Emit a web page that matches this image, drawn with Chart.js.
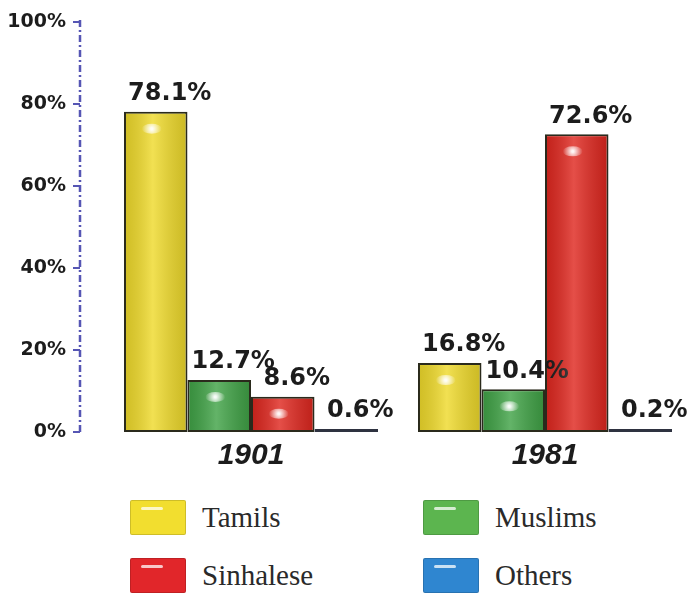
<!DOCTYPE html>
<html>
<head>
<meta charset="utf-8">
<script src="https://cdn.jsdelivr.net/npm/chart.js@4/dist/chart.umd.min.js"></script>
<style>
  html, body { margin: 0; padding: 0; background: #fff; }
  #wrap { position: relative; width: 692px; height: 597px; overflow: hidden; }
  #chart { position: absolute; left: 0; top: 0; }
  .sw { position: absolute; width: 56px; height: 35px; box-sizing: border-box; border-radius: 2px; }
  .sw::after { content: ""; position: absolute; left: 10px; top: 6px; width: 22px; height: 3px;
    background: rgba(255,255,255,0.75); border-radius: 2px; }
  .lt { position: absolute; font-family: "Liberation Serif", serif; font-size: 29px; color: #2a2a2a;
    line-height: 35px; }
</style>
</head>
<body>
<div id="wrap">
  <canvas id="chart" width="692" height="480"></canvas>
  <div id="legend"></div>
</div>
<script>
  // data
  var years = ["1901", "1981"];
  var groups = ["Tamils", "Muslims", "Sinhalese", "Others"];
  var tamils = [78.1, 16.8];
  var muslims = [12.7, 10.4];
  var sinhalese = [8.6, 72.6];
  var others = [0.6, 0.2];
  var yTicks = [0, 20, 40, 60, 80, 100];

  var barColors = ["#efda2c", "#41a347", "#df2820", "#333846"];
  var legendColors = ["#f2de2f", "#5cb54f", "#e1262a", "#2f86d0"];
  var series = [tamils, muslims, sinhalese, others];

  // dash-dot y axis line with little hooks at each tick
  var axisLine = {
    id: "axisLine",
    afterDraw: function(chart) {
      var ctx = chart.ctx, y = chart.scales.y, x0 = chart.chartArea.left - 24;
      ctx.save();
      ctx.strokeStyle = "#5656b4";
      ctx.lineWidth = 2.5;
      ctx.setLineDash([7, 3, 2, 3]);
      ctx.beginPath();
      ctx.moveTo(x0, y.getPixelForValue(100) - 2);
      ctx.lineTo(x0, y.getPixelForValue(0));
      ctx.stroke();
      ctx.setLineDash([]);
      ctx.lineWidth = 2;
      yTicks.forEach(function(t) {
        var py = y.getPixelForValue(t);
        ctx.beginPath();
        ctx.moveTo(x0 - 7, py);
        ctx.lineTo(x0, py);
        ctx.stroke();
      });
      ctx.restore();
    }
  };

  // shine on bars + value labels
  var barDeco = {
    id: "barDeco",
    afterDatasetsDraw: function(chart) {
      var ctx = chart.ctx;
      ctx.save();
      chart.data.datasets.forEach(function(ds, i) {
        chart.getDatasetMeta(i).data.forEach(function(el, j) {
          var p = el.getProps(["x", "y", "base", "width"], true);
          var l = p.x - p.width / 2 + 2, r = p.x + p.width / 2 - 2;
          var h = p.base - p.y - 4;
          if (h > 6) {
            var g = ctx.createLinearGradient(l, 0, r, 0);
            g.addColorStop(0, "rgba(0,0,0,0.12)");
            g.addColorStop(0.45, "rgba(255,255,255,0.18)");
            g.addColorStop(1, "rgba(0,0,0,0.14)");
            ctx.fillStyle = g;
            ctx.fillRect(l, p.y + 2, r - l, h);
            var rg = ctx.createRadialGradient(p.x - 4, p.y + 17, 1, p.x - 4, p.y + 17, 10);
            rg.addColorStop(0, "rgba(255,255,255,0.95)");
            rg.addColorStop(1, "rgba(255,255,255,0)");
            ctx.fillStyle = rg;
            ctx.beginPath();
            ctx.ellipse(p.x - 4, p.y + 17, 10, 5, 0, 0, Math.PI * 2);
            ctx.fill();
          }
          ctx.fillStyle = "#1c1c1c";
          ctx.font = "bold 24px 'DejaVu Sans', sans-serif";
          ctx.textAlign = "center";
          ctx.textBaseline = "middle";
          ctx.fillText(ds.data[j] + "%", p.x + 14, p.y - 18);
        });
      });
      ctx.restore();
    }
  };

  var chart = new Chart(document.getElementById("chart"), {
    type: "bar",
    data: {
      labels: years,
      datasets: groups.map(function(name, i) {
        return {
          label: name,
          data: series[i],
          backgroundColor: barColors[i],
          borderColor: i === 3 ? "#2e3240" : "#2a2a1c",
          borderWidth: 2,
          borderSkipped: false,
          minBarLength: i === 3 ? 3 : 0,
          categoryPercentage: 0.864,
          barPercentage: 1
        };
      })
    },
    options: {
      responsive: false,
      devicePixelRatio: 1,
      animation: false,
      layout: { padding: { top: 22, left: 0, right: 0, bottom: 0 } },
      plugins: { legend: { display: false }, tooltip: { enabled: false } },
      scales: {
        x: {
          grid: { display: false, drawTicks: false },
          border: { display: false },
          ticks: {
            padding: 6,
            color: "#1c1c1c",
            font: { family: "'Liberation Sans', Arial, sans-serif", size: 30, weight: "bold", style: "italic" }
          },
          afterFit: function(s) { s.height = 48; }
        },
        y: {
          min: 0,
          max: 100,
          afterBuildTicks: function(s) { s.ticks = yTicks.map(function(v) { return { value: v }; }); },
          grid: { display: false, drawTicks: false },
          border: { display: false },
          ticks: {
            padding: 38,
            color: "#1c1c1c",
            font: { family: "'DejaVu Sans', sans-serif", size: 19, weight: "bold" },
            callback: function(v) { return v + "%"; }
          },
          afterFit: function(s) {
            s.width = 104;
            // tick padding should only push labels sideways, not the top/bottom
            s.paddingTop = 10;
            s.paddingBottom = 10;
          }
        }
      }
    },
    plugins: [axisLine, barDeco]
  });

  // 2x2 legend under the chart
  var legend = document.getElementById("legend");
  var cols = [130, 423], rows = [500, 558];
  groups.forEach(function(name, i) {
    var cx = cols[i % 2], cy = rows[Math.floor(i / 2)];
    var sw = document.createElement("div");
    sw.className = "sw";
    sw.style.left = cx + "px";
    sw.style.top = cy + "px";
    sw.style.background = legendColors[i];
    sw.style.border = "1px solid rgba(0,0,0,0.15)";
    legend.appendChild(sw);
    var t = document.createElement("div");
    t.className = "lt";
    t.style.left = (cx + 72) + "px";
    t.style.top = cy + "px";
    t.textContent = name;
    legend.appendChild(t);
  });
</script>
</body>
</html>
